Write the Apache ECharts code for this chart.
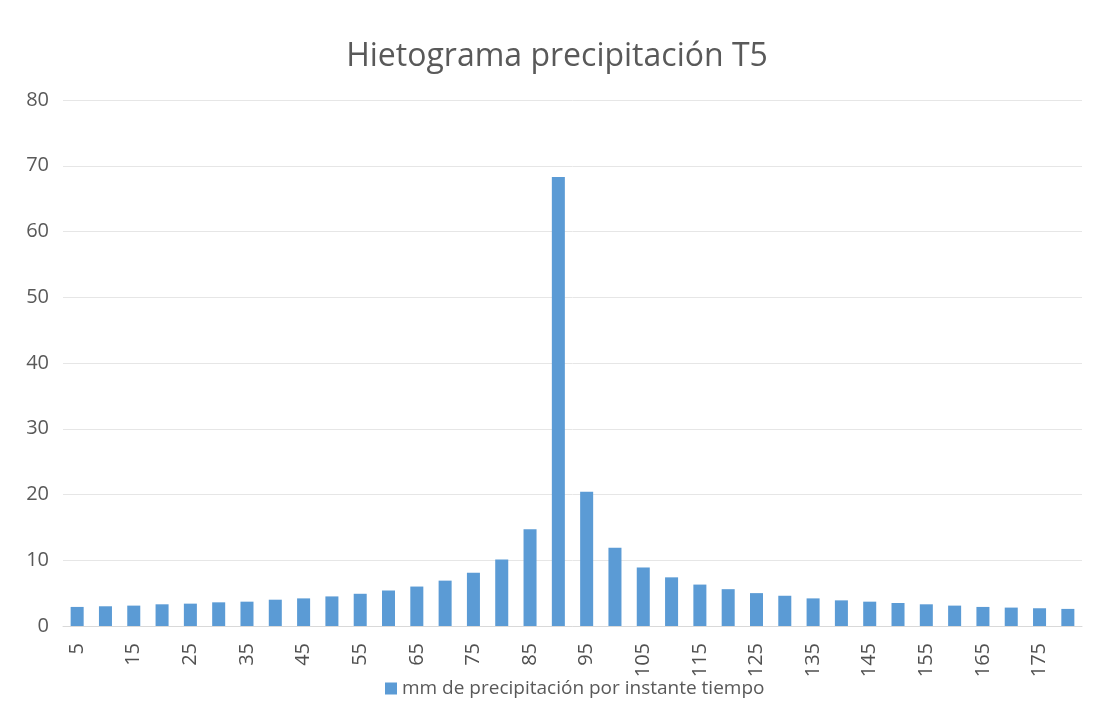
<!DOCTYPE html>
<html>
<head>
  <meta charset="utf-8">
  <title>Hietograma precipitación T5</title>
  <script src="https://cdn.jsdelivr.net/npm/echarts@6/dist/echarts.min.js"></script>
  <style>
    html, body { margin: 0; padding: 0; background: #fff; }
  </style>
</head>
<body>
  <div id="main" style="width:1114px;height:723px;"></div>
  <script type="text/javascript">
    // minutos (instantes de tiempo)
    var tiempos = ['5','10','15','20','25','30','35','40','45','50','55','60',
                   '65','70','75','80','85','90','95','100','105','110','115','120',
                   '125','130','135','140','145','150','155','160','165','170','175','180'];
    // mm de precipitación por instante tiempo
    var precipitacion = [2.9, 3.0, 3.1, 3.3, 3.4, 3.6, 3.7, 4.0, 4.2, 4.5, 4.9, 5.4,
                         6.0, 6.9, 8.1, 10.1, 14.7, 68.3, 20.4, 11.9, 8.9, 7.4, 6.3, 5.6,
                         5.0, 4.6, 4.2, 3.9, 3.7, 3.5, 3.3, 3.1, 2.9, 2.8, 2.7, 2.6];
    var nombreSerie = 'mm de precipitación por instante tiempo';

    var myChart = echarts.init(document.getElementById('main'));
    var fuente = '"Open Sans", "Noto Sans", sans-serif';

    var option = {
      backgroundColor: '#ffffff',
      textStyle: { fontFamily: fuente },
      title: {
        text: 'Hietograma precipitación T5',
        left: 'center',
        top: 36,
        textStyle: { fontSize: 32, fontWeight: 'normal', color: '#595959', fontFamily: fuente }
      },
      legend: {
        bottom: 20,
        left: 380,
        itemWidth: 12,
        itemHeight: 12,
        icon: 'rect',
        textStyle: { fontSize: 19, color: '#595959', fontFamily: fuente },
        data: [nombreSerie]
      },
      grid: { left: 63, right: 32, top: 100, bottom: 97 },
      xAxis: {
        type: 'category',
        data: tiempos,
        axisLine: { lineStyle: { color: '#d9d9d9' } },
        axisTick: { show: false },
        axisLabel: {
          interval: 1,
          rotate: 90,
          margin: 17,
          fontSize: 20,
          color: '#505050'
        }
      },
      yAxis: {
        type: 'value',
        min: 0,
        max: 80,
        interval: 10,
        axisLine: { show: false },
        axisTick: { show: false },
        axisLabel: { fontSize: 20, color: '#595959', margin: 14 },
        splitLine: { lineStyle: { color: '#e6e6e6' } }
      },
      series: [{
        name: nombreSerie,
        type: 'bar',
        data: precipitacion,
        barWidth: '46%',
        itemStyle: { color: '#5b9bd5' }
      }]
    };

    myChart.setOption(option);
  </script>
</body>
</html>
